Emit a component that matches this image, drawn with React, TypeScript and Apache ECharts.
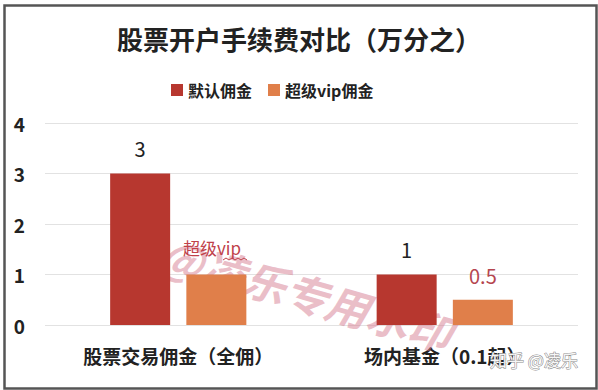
import React, { useEffect, useRef } from "react";
import * as echarts from "echarts";

const categories = ["股票交易佣金（全佣）", "场内基金（0.1起）"];
const defaultFee = [3, 1];
const vipFee = [1, 0.5];
const seriesNames = ["默认佣金", "超级vip佣金"];
const yTicks = [0, 1, 2, 3, 4];

const FONT = "'Noto Sans CJK SC', 'Noto Sans', sans-serif";

export default function App() {
  const ref = useRef<HTMLDivElement>(null);
  useEffect(() => {
    if (!ref.current) return;
    const chart = echarts.init(ref.current, null, { renderer: "svg" });
    chart.setOption({
      animation: false,
      backgroundColor: "#ffffff",
      textStyle: { fontFamily: FONT },
      title: {
        text: "股票开户手续费对比（万分之）",
        left: "center",
        top: 20,
        textStyle: { fontSize: 26, fontWeight: "bold", color: "#222", fontFamily: FONT },
      },
      legend: {
        top: 77,
        left: 166,
        itemWidth: 12,
        itemHeight: 12,
        itemGap: 16,
        icon: "rect",
        textStyle: { fontSize: 16, fontWeight: "bold", color: "#222", fontFamily: FONT },
        data: seriesNames,
      },
      grid: { left: 45, right: 20, top: 123, bottom: 65, containLabel: false },
      xAxis: {
        type: "category",
        data: categories,
        axisLine: { show: false },
        axisTick: { show: false },
        axisLabel: { fontSize: 19, fontWeight: "bold", color: "#222", margin: 21, fontFamily: FONT },
      },
      yAxis: {
        type: "value",
        min: yTicks[0],
        max: yTicks[yTicks.length - 1],
        interval: 1,
        axisLabel: { fontSize: 19, fontWeight: "bold", color: "#222", margin: 20, align: "right", fontFamily: FONT },
        splitLine: { lineStyle: { color: "#e2e2e2", width: 1 } },
        axisLine: { show: false },
        axisTick: { show: false },
      },
      series: [
        {
          name: seriesNames[0],
          type: "bar",
          data: defaultFee,
          barWidth: 60,
          barGap: "27%",
          z: 3,
          itemStyle: { color: "#b7372f" },
          label: { show: true, position: "top", distance: 15, fontSize: 20, color: "#222", fontFamily: FONT },
        },
        {
          name: seriesNames[1],
          type: "bar",
          z: 3,
          data: vipFee.map((v, i) =>
            i === 1
              ? { value: v, label: { show: true, position: "top", distance: 14, fontSize: 20, color: "#b5464f" } }
              : { value: v, label: { show: false } }
          ),
          barWidth: 60,
          itemStyle: { color: "#e07f4a" },
        },
      ],
      graphic: [
        {
          type: "rect",
          left: 2,
          top: 3,
          z: 0,
          shape: { width: 592, height: 383 },
          style: { fill: "none", stroke: "#555", lineWidth: 2.5 },
          silent: true,
        },
        {
          type: "text",
          x: 168,
          y: 230,
          z: 1,
          rotation: -0.28,
          style: {
            text: "@凌乐专用水印",
            fontSize: 43,
            fontWeight: "bold",
            fontStyle: "italic",
            fill: "rgba(214,125,145,0.5)",
            fontFamily: FONT,
          },
          silent: true,
        },
        {
          type: "text",
          x: 183,
          y: 239,
          z: 10,
          style: { text: "超级vip", fontSize: 17, fill: "#c0414a", fontFamily: FONT },
        },
        {
          type: "polyline",
          z: 10,
          shape: { points: [[223, 260], [226, 258], [229, 260], [232, 258], [235, 260], [238, 258], [241, 260], [244, 258], [247, 260]] },
          style: { stroke: "#c0414a", lineWidth: 1, fill: "none" },
        },
        {
          type: "text",
          x: 490,
          y: 351,
          z: 10,
          style: {
            text: "知乎 @凌乐",
            fontSize: 17,
            fill: "#f6f6f6",
            stroke: "#8a8a8a",
            lineWidth: 1,
            fontFamily: FONT,
          },
        },
      ],
    });
    return () => chart.dispose();
  }, []);
  return (
    <div
      ref={ref}
      style={{ position: "absolute", left: 0, top: 0, width: 598, height: 390 }}
    />
  );
}
